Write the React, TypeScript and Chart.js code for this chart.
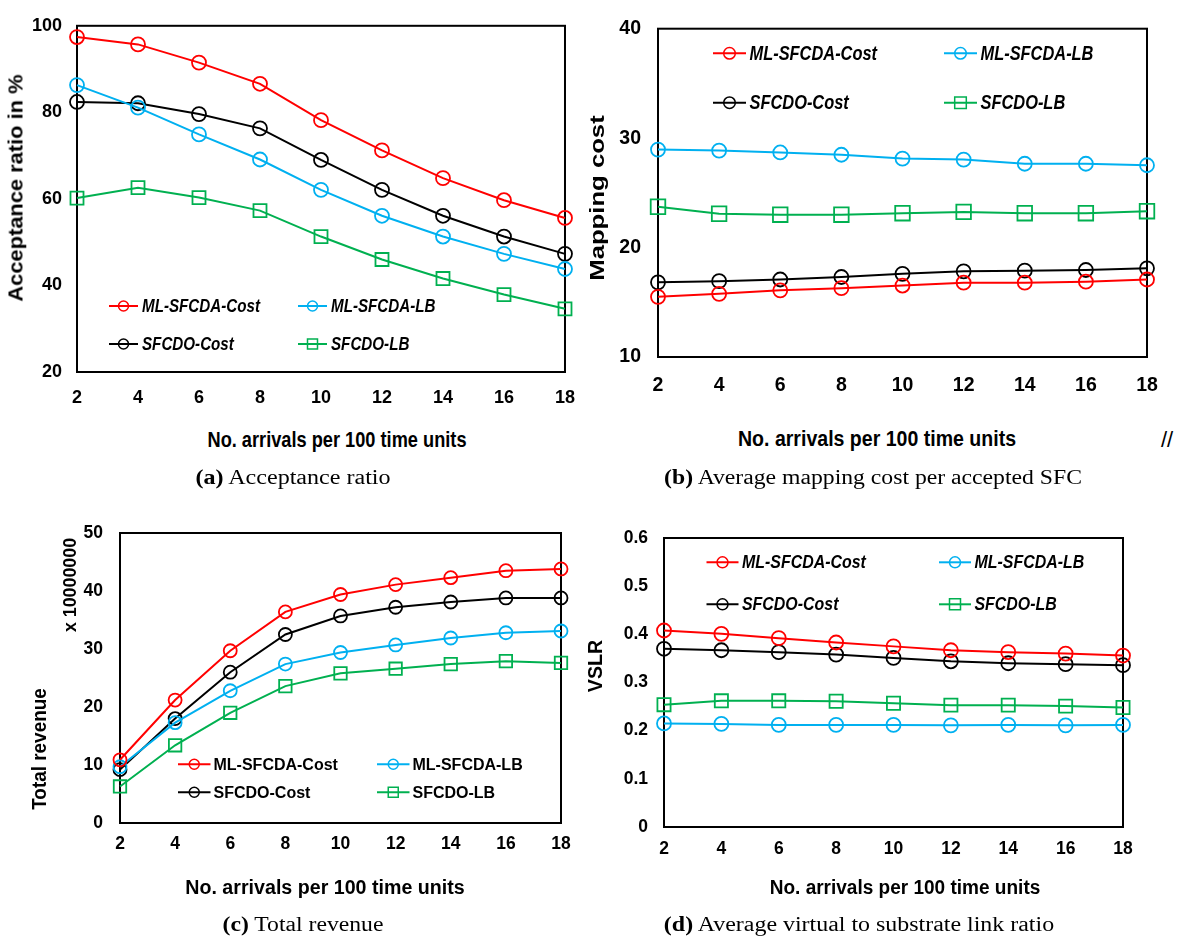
import React, { useEffect, useLayoutEffect, useRef } from "react";
import { Chart, registerables } from "chart.js";

Chart.register(...registerables);

// x categories shared by all four panels
const arrivals = ["2", "4", "6", "8", "10", "12", "14", "16", "18"];
const seriesNames = ["ML-SFCDA-Cost", "ML-SFCDA-LB", "SFCDO-Cost", "SFCDO-LB"];
const seriesColors = ["#FF0000", "#00B0F0", "#000000", "#00B050"];
const seriesMarkers = ["circle", "circle", "circle", "rect"];

// (a) acceptance ratio in %
const accMlCost = [97.4, 95.7, 91.5, 86.6, 78.2, 71.2, 64.8, 59.7, 55.6];
const accMlLb = [86.3, 81.1, 74.9, 69.1, 62.1, 56.1, 51.3, 47.3, 43.8];
const accDoCost = [82.4, 82.1, 79.6, 76.3, 69.0, 62.1, 56.1, 51.3, 47.3];
const accDoLb = [60.2, 62.6, 60.3, 57.3, 51.3, 46.0, 41.6, 37.9, 34.6];

// (b) average mapping cost per accepted SFC
const costMlCost = [15.5, 15.77, 16.09, 16.29, 16.53, 16.79, 16.79, 16.88, 17.08];
const costMlLb = [28.95, 28.86, 28.69, 28.48, 28.13, 28.04, 27.66, 27.66, 27.52];
const costDoCost = [16.82, 16.93, 17.08, 17.31, 17.6, 17.83, 17.89, 17.95, 18.1];
const costDoLb = [23.73, 23.09, 23.0, 23.0, 23.14, 23.26, 23.14, 23.14, 23.32];

// (c) total revenue, in units of 10000000
const revMlCost = [10.9, 21.2, 29.7, 36.4, 39.4, 41.1, 42.3, 43.5, 43.8];
const revMlLb = [9.7, 17.3, 22.8, 27.4, 29.4, 30.7, 31.9, 32.8, 33.1];
const revDoCost = [9.2, 18.0, 26.0, 32.5, 35.7, 37.2, 38.1, 38.8, 38.8];
const revDoLb = [6.3, 13.4, 19.0, 23.6, 25.8, 26.6, 27.4, 27.9, 27.6];

// (d) average virtual to substrate link ratio
const vslrMlCost = [0.408, 0.401, 0.392, 0.383, 0.375, 0.367, 0.363, 0.36, 0.356];
const vslrMlLb = [0.215, 0.214, 0.212, 0.212, 0.212, 0.211, 0.212, 0.211, 0.212];
const vslrDoCost = [0.37, 0.367, 0.363, 0.358, 0.351, 0.344, 0.34, 0.338, 0.336];
const vslrDoLb = [0.254, 0.262, 0.262, 0.261, 0.257, 0.253, 0.253, 0.251, 0.248];

// y tick labels
const acceptanceTicks = [20, 40, 60, 80, 100];
const costTicks = [10, 20, 30, 40];
const revenueTicks = [0, 10, 20, 30, 40, 50];
const vslrTicks = [0, 0.1, 0.2, 0.3, 0.4, 0.5, 0.6];

const SANS = "'Liberation Sans', Arial, sans-serif";
const NARROW = "'Liberation Sans Narrow', 'Arial Narrow', 'Liberation Sans', Arial, sans-serif";
const SERIF = "'Liberation Serif', 'Times New Roman', serif";

type LegendSpec = {
  cols: number[];
  rows: number[];
  line: number;
  gap: number;
  size: number;
  italic: boolean;
  sx: number;
  r: number;
};

type PanelSpec = {
  box: [number, number, number, number];
  area: [number, number, number, number];
  series: number[][];
  yTicks: number[];
  yFormat: (v: number) => string;
  tickFamily: string;
  tickSize: number;
  yPad: number;
  xPad: number;
  r: number;
  sq: number;
  legend: LegendSpec;
};

const panels: PanelSpec[] = [
  {
    box: [0, 0, 590, 420],
    area: [77, 15, 568, 372],
    series: [accMlCost, accMlLb, accDoCost, accDoLb],
    yTicks: acceptanceTicks,
    yFormat: (v) => String(v),
    tickFamily: NARROW,
    tickSize: 18,
    yPad: 15,
    xPad: 15,
    r: 7,
    sq: 9.2,
    legend: { cols: [109, 298], rows: [306, 344], line: 29, gap: 4, size: 18.5, italic: true, sx: 0.82, r: 5 },
  },
  {
    box: [590, 0, 591, 420],
    area: [68, 14, 557, 357],
    series: [costMlCost, costMlLb, costDoCost, costDoLb],
    yTicks: costTicks,
    yFormat: (v) => String(v),
    tickFamily: NARROW,
    tickSize: 19.5,
    yPad: 17,
    xPad: 17,
    r: 7,
    sq: 10.3,
    legend: { cols: [123, 354], rows: [53.3, 102.7], line: 33, gap: 3.5, size: 20.5, italic: true, sx: 0.8, r: 5.8 },
  },
  {
    box: [0, 480, 590, 400],
    area: [120, 53, 561, 343],
    series: [revMlCost, revMlLb, revDoCost, revDoLb],
    yTicks: revenueTicks,
    yFormat: (v) => String(v),
    tickFamily: SANS,
    tickSize: 17.5,
    yPad: 17,
    xPad: 10.5,
    r: 6.5,
    sq: 8.8,
    legend: { cols: [178, 377], rows: [284.3, 312.3], line: 32.5, gap: 3, size: 16, italic: false, sx: 1.0, r: 5 },
  },
  {
    box: [590, 480, 591, 400],
    area: [74, 58, 533, 347],
    series: [vslrMlCost, vslrMlLb, vslrDoCost, vslrDoLb],
    yTicks: vslrTicks,
    yFormat: (v) => (v === 0 ? "0" : v.toFixed(1)),
    tickFamily: SANS,
    tickSize: 17.5,
    yPad: 16,
    xPad: 12,
    r: 7,
    sq: 9.3,
    legend: { cols: [116.5, 349], rows: [82.3, 124.3], line: 32, gap: 3.5, size: 17.5, italic: true, sx: 0.91, r: 5.5 },
  },
];

function LineChart({ spec }: { spec: PanelSpec }) {
  const ref = useRef<HTMLCanvasElement>(null);
  const [left, top, width, height] = spec.box;

  useEffect(() => {
    const [al, at, ar, ab] = spec.area;
    const L = spec.legend;

    // black frame round the plot area, under the lines and markers
    const frame = {
      id: "frame",
      beforeDatasetsDraw(chart: any) {
        const { ctx, chartArea: a } = chart;
        ctx.save();
        ctx.strokeStyle = "#000";
        ctx.lineWidth = 2;
        ctx.strokeRect(a.left, a.top, a.right - a.left, a.bottom - a.top);
        ctx.restore();
      },
    };

    // two-column legend inside the plot area
    const insetLegend = {
      id: "insetLegend",
      afterDatasetsDraw(chart: any) {
        const ctx = chart.ctx;
        chart.data.datasets.forEach((ds: any, i: number) => {
          const x = L.cols[i % 2];
          const y = L.rows[Math.floor(i / 2)];
          const cx = x + L.line / 2;
          ctx.save();
          ctx.strokeStyle = ds.borderColor;
          ctx.lineWidth = 2;
          ctx.beginPath();
          ctx.moveTo(x, y);
          ctx.lineTo(x + L.line, y);
          ctx.stroke();
          ctx.lineWidth = 1.5;
          ctx.beginPath();
          if (ds.pointStyle === "rect") ctx.rect(cx - L.r, y - L.r, 2 * L.r, 2 * L.r);
          else ctx.arc(cx, y, L.r, 0, Math.PI * 2);
          ctx.stroke();
          ctx.fillStyle = "#000";
          ctx.font = `${L.italic ? "italic " : ""}bold ${L.size}px ${SANS}`;
          ctx.textBaseline = "middle";
          ctx.textAlign = "left";
          ctx.translate(x + L.line + L.gap, y + 1);
          ctx.scale(L.sx, 1);
          ctx.fillText(ds.label, 0, 0);
          ctx.restore();
        });
      },
    };

    const tickFont = { family: spec.tickFamily, size: spec.tickSize, weight: "bold" as const };

    const chart = new Chart(ref.current!, {
      type: "line",
      data: {
        labels: arrivals,
        datasets: spec.series.map((values, i) => ({
          label: seriesNames[i],
          data: values,
          borderColor: seriesColors[i],
          backgroundColor: "rgba(0,0,0,0)",
          borderWidth: 2,
          pointStyle: seriesMarkers[i] as any,
          pointRadius: seriesMarkers[i] === "rect" ? spec.sq : spec.r,
          pointBorderWidth: 1.8,
          pointBorderColor: seriesColors[i],
          pointBackgroundColor: "rgba(0,0,0,0)",
          tension: 0,
          clip: false as any,
        })),
      },
      options: {
        responsive: false,
        animation: false,
        events: [],
        layout: { padding: { left: 0, top: at, right: width - ar, bottom: 0 } },
        plugins: { legend: { display: false }, tooltip: { enabled: false } },
        scales: {
          x: {
            type: "category",
            offset: false,
            grid: { display: false, drawTicks: false },
            border: { display: false },
            ticks: { font: tickFont, color: "#000", padding: spec.xPad, autoSkip: false, maxRotation: 0 },
            afterFit: (s: any) => {
              s.height = height - ab;
            },
          },
          y: {
            type: "linear",
            min: spec.yTicks[0],
            max: spec.yTicks[spec.yTicks.length - 1],
            grid: { display: false, drawTicks: false },
            border: { display: false },
            ticks: {
              font: tickFont,
              color: "#000",
              padding: spec.yPad,
              callback: (v: any) => spec.yFormat(Number(v)),
            },
            afterBuildTicks: (s: any) => {
              s.ticks = spec.yTicks.map((v) => ({ value: v }));
            },
            afterFit: (s: any) => {
              s.width = al;
            },
          },
        },
      },
      plugins: [frame, insetLegend],
    });
    return () => chart.destroy();
  }, [spec]);

  return (
    <canvas
      ref={ref}
      width={width}
      height={height}
      style={{ position: "absolute", left, top, width, height }}
    />
  );
}

type TextProps = {
  x: number;
  y: number;
  width?: number;
  rotate?: number;
  size: number;
  family: string;
  bold?: boolean;
  children: React.ReactNode;
};

// Absolutely placed label, centred on (x, y) and stretched to the given length
function Text({ x, y, width, rotate = 0, size, family, bold = false, children }: TextProps) {
  const ref = useRef<HTMLDivElement>(null);
  useLayoutEffect(() => {
    const el = ref.current!;
    const sx = width ? width / el.offsetWidth : 1;
    el.style.transform = `translate(-50%, -50%) rotate(${rotate}deg) scaleX(${sx})`;
  }, [width, rotate]);
  return (
    <div
      ref={ref}
      style={{
        position: "absolute",
        left: x,
        top: y,
        whiteSpace: "nowrap",
        lineHeight: 1,
        fontFamily: family,
        fontSize: size,
        fontWeight: bold ? "bold" : "normal",
        color: "#000",
        transform: `translate(-50%, -50%) rotate(${rotate}deg)`,
      }}
    >
      {children}
    </div>
  );
}

export default function App() {
  const xTitle = "No. arrivals per 100 time units";
  return (
    <div
      style={{
        position: "absolute",
        left: 0,
        top: 0,
        width: 1181,
        height: 940,
        background: "#fff",
        overflow: "hidden",
      }}
    >
      {panels.map((p, i) => (
        <LineChart key={i} spec={p} />
      ))}

      {/* (a) */}
      <Text x={15} y={188} rotate={-90} width={227} size={21} family={SANS} bold>
        Acceptance ratio in %
      </Text>
      <Text x={337} y={440} width={259} size={22} family={SANS} bold>
        {xTitle}
      </Text>
      <Text x={292.5} y={477} width={195} size={20} family={SERIF}>
        <b>(a)</b> Acceptance ratio
      </Text>

      {/* (b) */}
      <Text x={596} y={197.5} rotate={-90} width={165} size={21} family={SANS} bold>
        Mapping cost
      </Text>
      <Text x={877} y={439} width={278} size={22} family={SANS} bold>
        {xTitle}
      </Text>
      <Text x={1167} y={440} size={22} family={SANS}>
        //
      </Text>
      <Text x={873} y={477} width={418} size={20} family={SERIF}>
        <b>(b)</b> Average mapping cost per accepted SFC
      </Text>

      {/* (c) */}
      <Text x={39} y={749} rotate={-90} width={122} size={20} family={SANS} bold>
        Total revenue
      </Text>
      <Text x={70} y={585} rotate={-90} width={94} size={18} family={SANS} bold>
        x 10000000
      </Text>
      <Text x={324.5} y={888} width={279} size={19.5} family={SANS} bold>
        {xTitle}
      </Text>
      <Text x={303} y={924} width={161} size={20} family={SERIF}>
        <b>(c)</b> Total revenue
      </Text>

      {/* (d) */}
      <Text x={595} y={666} rotate={-90} width={52} size={20} family={SANS} bold>
        VSLR
      </Text>
      <Text x={904.5} y={887} width={271} size={20} family={SANS} bold>
        {xTitle}
      </Text>
      <Text x={859} y={924} width={390} size={20} family={SERIF}>
        <b>(d)</b> Average virtual to substrate link ratio
      </Text>
    </div>
  );
}
